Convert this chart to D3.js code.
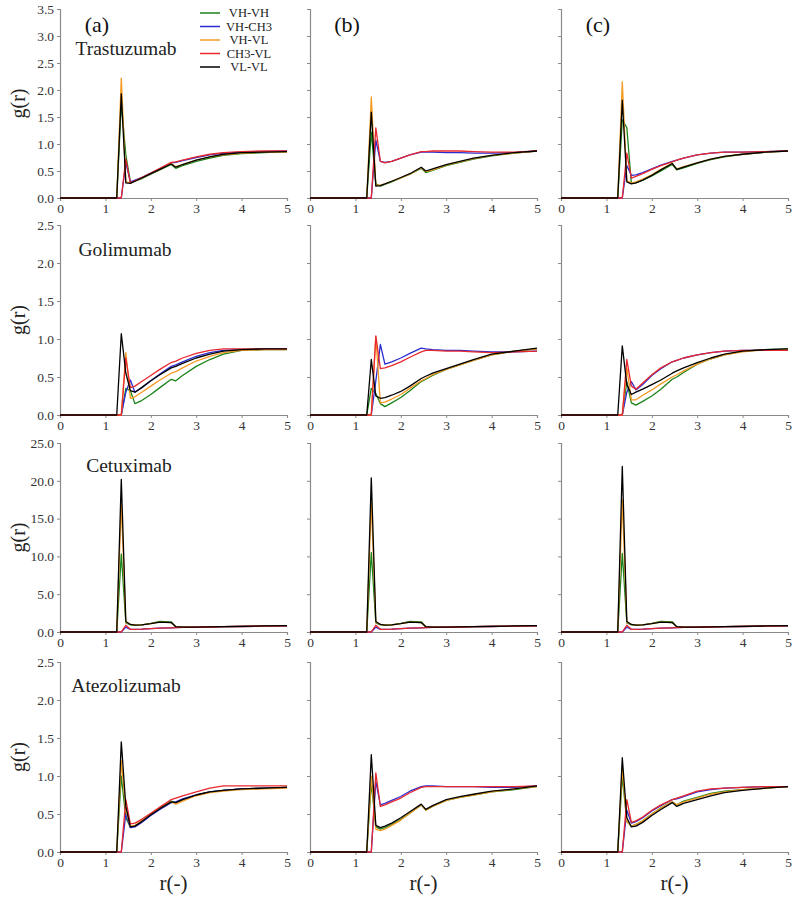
<!DOCTYPE html>
<html><head><meta charset="utf-8">
<script src="https://cdn.jsdelivr.net/npm/d3@7/dist/d3.min.js"></script>
<style>body{margin:0;background:#fff}svg{display:block}</style>
</head><body>
<script>
// r grid shared by all curves
const rGrid = [0,1.25,1.35,1.45,1.55,1.65,1.8,2.0,2.2,2.45,2.55,2.7,3.0,3.3,3.6,4.0,4.5,5.0];
const seriesNames = ["VH-VH","VH-CH3","VH-VL","CH3-VL","VL-VL"];
const seriesColors = ["#1a841a","#2b2bd0","#f59a23","#e8282e","#000000"];
const antibodies = ["Trastuzumab","Golimumab","Cetuximab","Atezolizumab"];
const panelLetters = ["(a)","(b)","(c)"];
const xTicks = [0,1,2,3,4,5];
const yMaxByRow = [3.5,2.5,25,2.5];
const yStepByRow = [0.5,0.5,5,0.5];

// ---- Trastuzumab ----
const tra_a_VHVH = [0,0,1.75,0.8,0.3,0.31,0.36,0.44,0.52,0.62,0.55,0.60,0.68,0.74,0.79,0.82,0.84,0.86];
const tra_a_VHCH3 = [0,0,0,0.65,0.3,0.33,0.38,0.46,0.54,0.65,0.66,0.69,0.75,0.80,0.83,0.85,0.86,0.87];
const tra_a_VHVL = [0,0,2.22,0.30,0.28,0.31,0.37,0.45,0.53,0.64,0.58,0.62,0.70,0.76,0.80,0.83,0.85,0.85];
const tra_a_CH3VL = [0,0,0,0.72,0.28,0.32,0.38,0.46,0.55,0.66,0.67,0.70,0.76,0.81,0.84,0.86,0.87,0.87];
const tra_a_VLVL = [0,0,1.93,0.28,0.27,0.31,0.37,0.45,0.53,0.63,0.57,0.62,0.70,0.76,0.81,0.84,0.85,0.86];

const tra_b_VHVH = [0,0,1.22,0.26,0.22,0.25,0.30,0.37,0.44,0.55,0.47,0.51,0.60,0.66,0.72,0.78,0.83,0.87];
const tra_b_VHCH3 = [0,0,0,1.07,0.68,0.66,0.68,0.74,0.80,0.85,0.85,0.85,0.84,0.84,0.83,0.83,0.84,0.87];
const tra_b_VHVL = [0,0,1.87,0.24,0.24,0.26,0.31,0.37,0.44,0.56,0.49,0.52,0.61,0.67,0.73,0.79,0.83,0.87];
const tra_b_CH3VL = [0,0,0,1.3,0.68,0.65,0.68,0.74,0.80,0.86,0.86,0.87,0.87,0.87,0.86,0.85,0.85,0.87];
const tra_b_VLVL = [0,0,1.59,0.22,0.23,0.26,0.31,0.38,0.45,0.57,0.50,0.54,0.62,0.68,0.74,0.79,0.84,0.87];

const tra_c_VHVH = [0,0,1.45,1.3,0.27,0.28,0.33,0.41,0.50,0.62,0.52,0.56,0.64,0.71,0.76,0.81,0.85,0.87];
const tra_c_VHCH3 = [0,0,0,0.6,0.42,0.43,0.47,0.54,0.61,0.68,0.70,0.74,0.80,0.83,0.85,0.85,0.86,0.87];
const tra_c_VHVL = [0,0,2.15,0.32,0.28,0.30,0.35,0.43,0.53,0.64,0.54,0.58,0.65,0.72,0.77,0.81,0.85,0.87];
const tra_c_CH3VL = [0,0,0,0.83,0.37,0.40,0.45,0.53,0.60,0.67,0.70,0.74,0.80,0.83,0.85,0.85,0.86,0.87];
const tra_c_VLVL = [0,0,1.81,0.30,0.26,0.28,0.33,0.42,0.52,0.64,0.53,0.57,0.65,0.72,0.77,0.81,0.85,0.87];

// ---- Golimumab ----
const gol_a_VHVH = [0,0,0,0.35,0.32,0.15,0.19,0.27,0.36,0.47,0.45,0.52,0.64,0.73,0.80,0.85,0.86,0.86];
const gol_a_VHCH3 = [0,0,0,0.3,0.46,0.30,0.36,0.45,0.54,0.64,0.66,0.70,0.77,0.82,0.85,0.86,0.87,0.87];
const gol_a_VHVL = [0,0,0,0.82,0.22,0.24,0.30,0.38,0.46,0.55,0.57,0.62,0.71,0.77,0.82,0.85,0.86,0.86];
const gol_a_CH3VL = [0,0,0,0.75,0.36,0.38,0.44,0.52,0.60,0.69,0.71,0.75,0.81,0.85,0.87,0.87,0.87,0.87];
const gol_a_VLVL = [0,0,1.07,0.55,0.32,0.30,0.36,0.45,0.53,0.62,0.64,0.68,0.75,0.80,0.84,0.86,0.87,0.87];

const gol_b_VHVH = [0,0,0.35,0.28,0.15,0.11,0.16,0.23,0.32,0.44,0.47,0.52,0.60,0.66,0.72,0.79,0.84,0.87];
const gol_b_VHCH3 = [0,0,0,0.45,0.93,0.67,0.70,0.75,0.81,0.88,0.87,0.86,0.85,0.85,0.84,0.83,0.83,0.84];
const gol_b_VHVL = [0,0,0,1.03,0.16,0.17,0.21,0.27,0.35,0.45,0.48,0.53,0.60,0.66,0.72,0.79,0.84,0.87];
const gol_b_CH3VL = [0,0,0,1.04,0.61,0.62,0.65,0.70,0.76,0.83,0.85,0.85,0.84,0.84,0.83,0.82,0.83,0.84];
const gol_b_VLVL = [0,0,0.73,0.25,0.22,0.23,0.26,0.31,0.38,0.48,0.51,0.55,0.61,0.67,0.73,0.80,0.84,0.88];

const gol_c_VHVH = [0,0,0,0.44,0.16,0.13,0.18,0.25,0.34,0.47,0.50,0.56,0.67,0.74,0.79,0.84,0.86,0.87];
const gol_c_VHCH3 = [0,0,0,0.3,0.44,0.33,0.40,0.52,0.61,0.70,0.72,0.75,0.79,0.82,0.84,0.85,0.85,0.86];
const gol_c_VHVL = [0,0,0,0.62,0.20,0.20,0.26,0.33,0.41,0.50,0.53,0.58,0.67,0.74,0.79,0.83,0.86,0.86];
const gol_c_CH3VL = [0,0,0,0.73,0.38,0.34,0.42,0.53,0.62,0.70,0.72,0.75,0.79,0.82,0.84,0.85,0.85,0.85];
const gol_c_VLVL = [0,0,0.91,0.40,0.27,0.30,0.34,0.40,0.46,0.55,0.58,0.62,0.69,0.75,0.80,0.84,0.86,0.87];

// ---- Cetuximab ----
const cet_a_VHVH = [0,0,10.3,1.2,0.95,0.9,0.95,1.15,1.4,1.35,0.7,0.65,0.65,0.68,0.7,0.74,0.8,0.85];
const cet_a_VHCH3 = [0,0,0,0.65,0.35,0.35,0.38,0.45,0.5,0.55,0.58,0.6,0.63,0.66,0.7,0.73,0.78,0.82];
const cet_a_VHVL = [0,0,17.0,1.3,1.0,0.9,0.95,1.1,1.3,1.25,0.7,0.65,0.65,0.68,0.7,0.74,0.8,0.85];
const cet_a_CH3VL = [0,0,0,0.9,0.35,0.35,0.38,0.45,0.5,0.55,0.58,0.6,0.63,0.66,0.7,0.73,0.78,0.82];
const cet_a_VLVL = [0,0,20.2,1.4,1.0,0.9,0.95,1.1,1.3,1.25,0.7,0.65,0.65,0.68,0.7,0.74,0.8,0.85];

const cet_b_VHVH = [0,0,10.5,1.2,0.95,0.9,0.95,1.15,1.4,1.35,0.7,0.65,0.65,0.68,0.7,0.74,0.8,0.85];
const cet_b_VHCH3 = [0,0,0,0.65,0.35,0.35,0.38,0.45,0.5,0.55,0.58,0.6,0.63,0.66,0.7,0.73,0.78,0.82];
const cet_b_VHVL = [0,0,17.2,1.3,1.0,0.9,0.95,1.1,1.3,1.25,0.7,0.65,0.65,0.68,0.7,0.74,0.8,0.85];
const cet_b_CH3VL = [0,0,0,0.9,0.35,0.35,0.38,0.45,0.5,0.55,0.58,0.6,0.63,0.66,0.7,0.73,0.78,0.82];
const cet_b_VLVL = [0,0,20.4,1.4,1.0,0.9,0.95,1.1,1.3,1.25,0.7,0.65,0.65,0.68,0.7,0.74,0.8,0.85];

const cet_c_VHVH = [0,0,10.4,1.2,0.95,0.9,0.95,1.15,1.4,1.35,0.7,0.65,0.65,0.68,0.7,0.74,0.8,0.85];
const cet_c_VHCH3 = [0,0,0,0.65,0.35,0.35,0.38,0.45,0.5,0.55,0.58,0.6,0.63,0.66,0.7,0.73,0.78,0.82];
const cet_c_VHVL = [0,0,17.5,1.3,1.0,0.9,0.95,1.1,1.3,1.25,0.7,0.65,0.65,0.68,0.7,0.74,0.8,0.85];
const cet_c_CH3VL = [0,0,0,0.9,0.35,0.35,0.38,0.45,0.5,0.55,0.58,0.6,0.63,0.66,0.7,0.73,0.78,0.82];
const cet_c_VLVL = [0,0,21.9,1.4,1.0,0.9,0.95,1.1,1.3,1.25,0.7,0.65,0.65,0.68,0.7,0.74,0.8,0.85];

// ---- Atezolizumab ----
const ate_a_VHVH = [0,0,1.0,0.45,0.33,0.34,0.40,0.49,0.57,0.67,0.65,0.69,0.75,0.79,0.81,0.83,0.84,0.85];
const ate_a_VHCH3 = [0,0,0,0.5,0.32,0.33,0.39,0.48,0.56,0.65,0.66,0.70,0.75,0.79,0.81,0.83,0.84,0.85];
const ate_a_VHVL = [0,0,1.2,0.55,0.34,0.35,0.41,0.50,0.58,0.66,0.63,0.67,0.74,0.78,0.80,0.82,0.83,0.84];
const ate_a_CH3VL = [0,0,0,0.69,0.37,0.38,0.43,0.51,0.59,0.69,0.71,0.74,0.79,0.84,0.87,0.87,0.87,0.87];
const ate_a_VLVL = [0,0,1.45,0.6,0.33,0.34,0.40,0.49,0.57,0.66,0.65,0.69,0.75,0.79,0.81,0.83,0.84,0.85];

const ate_b_VHVH = [0,0,0.91,0.33,0.30,0.32,0.36,0.43,0.51,0.62,0.55,0.60,0.68,0.72,0.75,0.79,0.82,0.86];
const ate_b_VHCH3 = [0,0,0,0.93,0.62,0.64,0.68,0.73,0.80,0.86,0.87,0.87,0.86,0.86,0.86,0.85,0.85,0.87];
const ate_b_VHVL = [0,0,1.0,0.30,0.28,0.30,0.35,0.42,0.51,0.62,0.55,0.60,0.68,0.72,0.75,0.79,0.83,0.86];
const ate_b_CH3VL = [0,0,0,1.04,0.60,0.62,0.66,0.71,0.78,0.85,0.86,0.86,0.86,0.86,0.86,0.86,0.86,0.87];
const ate_b_VLVL = [0,0,1.28,0.35,0.32,0.34,0.38,0.45,0.53,0.63,0.56,0.61,0.69,0.73,0.76,0.80,0.83,0.87];

const ate_c_VHVH = [0,0,1.0,0.4,0.34,0.36,0.41,0.50,0.58,0.66,0.62,0.67,0.72,0.77,0.80,0.82,0.84,0.86];
const ate_c_VHCH3 = [0,0,0,0.55,0.38,0.40,0.45,0.54,0.61,0.69,0.70,0.73,0.79,0.82,0.84,0.85,0.86,0.86];
const ate_c_VHVL = [0,0,1.1,0.4,0.34,0.36,0.41,0.50,0.58,0.66,0.62,0.66,0.71,0.76,0.79,0.82,0.84,0.86];
const ate_c_CH3VL = [0,0,0,0.69,0.39,0.41,0.46,0.55,0.62,0.69,0.71,0.74,0.80,0.83,0.84,0.85,0.86,0.86];
const ate_c_VLVL = [0,0,1.24,0.45,0.33,0.34,0.39,0.48,0.56,0.65,0.60,0.64,0.69,0.74,0.78,0.81,0.84,0.86];

// panel table [row][col] -> series in seriesNames order
const panels = [
  [[tra_a_VHVH,tra_a_VHCH3,tra_a_VHVL,tra_a_CH3VL,tra_a_VLVL],
   [tra_b_VHVH,tra_b_VHCH3,tra_b_VHVL,tra_b_CH3VL,tra_b_VLVL],
   [tra_c_VHVH,tra_c_VHCH3,tra_c_VHVL,tra_c_CH3VL,tra_c_VLVL]],
  [[gol_a_VHVH,gol_a_VHCH3,gol_a_VHVL,gol_a_CH3VL,gol_a_VLVL],
   [gol_b_VHVH,gol_b_VHCH3,gol_b_VHVL,gol_b_CH3VL,gol_b_VLVL],
   [gol_c_VHVH,gol_c_VHCH3,gol_c_VHVL,gol_c_CH3VL,gol_c_VLVL]],
  [[cet_a_VHVH,cet_a_VHCH3,cet_a_VHVL,cet_a_CH3VL,cet_a_VLVL],
   [cet_b_VHVH,cet_b_VHCH3,cet_b_VHVL,cet_b_CH3VL,cet_b_VLVL],
   [cet_c_VHVH,cet_c_VHCH3,cet_c_VHVL,cet_c_CH3VL,cet_c_VLVL]],
  [[ate_a_VHVH,ate_a_VHCH3,ate_a_VHVL,ate_a_CH3VL,ate_a_VLVL],
   [ate_b_VHVH,ate_b_VHCH3,ate_b_VHVL,ate_b_CH3VL,ate_b_VLVL],
   [ate_c_VHVH,ate_c_VHCH3,ate_c_VHVL,ate_c_CH3VL,ate_c_VLVL]]
];

// layout
const W = 800, H = 899;
const colLeft = [60, 310, 561];
const panelW = 227;
const rowTop = [9, 225, 443, 662];
const rowBottom = [198, 415, 632, 852];
const drawOrder = [0,1,2,3,4]; // green, blue, orange, red, black
const FONT = "'Liberation Serif','Times New Roman',serif";

const svg = d3.select("body").append("svg").attr("width", W).attr("height", H)
  .style("font-family", FONT);

for (let row = 0; row < 4; row++) {
  const y = d3.scaleLinear().domain([0, yMaxByRow[row]]).range([rowBottom[row], rowTop[row]]);
  const yt = d3.range(0, yMaxByRow[row] + 1e-9, yStepByRow[row]);
  for (let col = 0; col < 3; col++) {
    const x = d3.scaleLinear().domain([0, 5]).range([colLeft[col], colLeft[col] + panelW]);
    const g = svg.append("g");

    const xa = g.append("g").attr("transform", `translate(0,${rowBottom[row]})`)
      .call(d3.axisBottom(x).tickValues(xTicks).tickFormat(d3.format("d")).tickSize(3).tickPadding(2));
    const ya = g.append("g").attr("transform", `translate(${colLeft[col]},0)`)
      .call(d3.axisLeft(y).tickValues(yt).tickFormat(col === 0 ? d3.format(".1f") : () => "").tickSize(3).tickPadding(3));
    [xa, ya].forEach(a => {
      a.select(".domain").attr("stroke", "#8a8a8a").attr("stroke-width", 1.2);
      a.selectAll(".tick line").attr("stroke", "#8a8a8a");
      a.selectAll(".tick text").attr("fill", "#333").style("font-size", "13.5px").style("font-family", FONT);
    });

    const line = d3.line().x((d, i) => x(rGrid[i])).y(d => y(d));
    drawOrder.forEach(s => {
      g.append("path").datum(panels[row][col][s])
        .attr("fill", "none").attr("stroke", seriesColors[s])
        .attr("stroke-width", 1.3).attr("stroke-linejoin", "round")
        .attr("d", line);
    });

    if (row === 0) {
      g.append("text").attr("x", colLeft[col] + 37).attr("y", 32)
        .attr("text-anchor", "middle").style("font-size", "22px").attr("fill", "#111")
        .text(panelLetters[col]);
    }
    if (row === 3) {
      g.append("text").attr("x", colLeft[col] + panelW / 2).attr("y", 890)
        .attr("text-anchor", "middle").style("font-size", "21px").attr("fill", "#222")
        .text("r(-)");
    }
  }
  // y label
  const cy = (rowTop[row] + rowBottom[row]) / 2;
  svg.append("text").attr("transform", `translate(25,${cy}) rotate(-90)`)
    .attr("text-anchor", "middle").style("font-size", "20px").attr("fill", "#222")
    .text("g(r)");
}

// antibody names
const nameX = [126, 125, 129, 126];
const nameY = [55, 256, 472, 692];
antibodies.forEach((n, i) => {
  svg.append("text").attr("x", nameX[i]).attr("y", nameY[i]).attr("text-anchor", "middle")
    .style("font-size", "19.5px").attr("fill", "#222").text(n);
});

// legend
const legY = [13, 26.5, 40, 53.5, 67];
seriesNames.forEach((n, i) => {
  svg.append("line").attr("x1", 200).attr("x2", 220).attr("y1", legY[i]).attr("y2", legY[i])
    .attr("stroke", seriesColors[i]).attr("stroke-width", 1.5);
  svg.append("text").attr("x", 249).attr("y", legY[i] + 4).attr("text-anchor", "middle")
    .style("font-size", "12.5px").attr("fill", "#222").text(n);
});
</script>
</body></html>
